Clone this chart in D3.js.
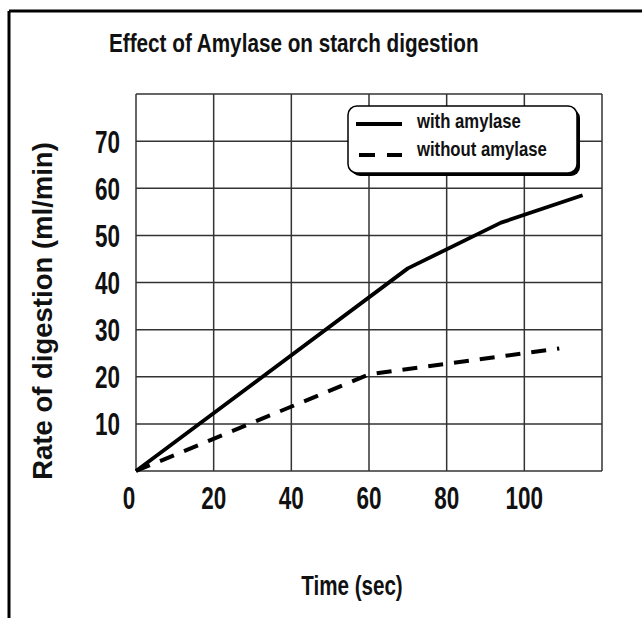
<!DOCTYPE html>
<html>
<head>
<meta charset="utf-8">
<script src="https://cdn.jsdelivr.net/npm/d3@7"></script>
<style>
  body { margin: 0; background: #fff; }
  text { font-family: "Liberation Sans", Arial, sans-serif; font-weight: bold; fill: #111; }
</style>
</head>
<body>
<svg id="chart"></svg>
<script>
// data
const xTicks = [0, 20, 40, 60, 80, 100];
const yTicks = [10, 20, 30, 40, 50, 60, 70];
const gridX = [0, 20, 40, 60, 80, 100, 120];
const gridY = [0, 10, 20, 30, 40, 50, 60, 70, 80];

const withTime = [0, 70, 94, 115];
const withRate = [0, 43, 52.7, 58.5];
const withoutTime = [0, 60, 109];
const withoutRate = [0, 20.5, 26];

const seriesNames = ["with amylase", "without amylase"];

const W = 642, H = 618;
const plotL = 136, plotR = 602, plotT = 94, plotB = 471;

const svg = d3.select("#chart").attr("width", W).attr("height", H);

// outer frame (only top and left edges are visible)
svg.append("line").attr("x1", 9).attr("y1", 11).attr("x2", W).attr("y2", 11)
  .attr("stroke", "#000").attr("stroke-width", 3);
svg.append("line").attr("x1", 9).attr("y1", 11).attr("x2", 9).attr("y2", H)
  .attr("stroke", "#000").attr("stroke-width", 3);

const x = d3.scaleLinear().domain([0, 120]).range([plotL, plotR]);
const y = d3.scaleLinear().domain([0, 80]).range([plotB, plotT]);

// stretched text helper
function label(x0, y0, str, size, sx, sy, anchor) {
  return svg.append("text")
    .attr("transform", `translate(${x0},${y0}) scale(${sx},${sy})`)
    .attr("font-size", size)
    .attr("text-anchor", anchor || "start")
    .text(str);
}

// grid
const grid = svg.append("g").attr("stroke", "#333").attr("stroke-width", 1.5);
grid.selectAll("line.v").data(gridX).enter().append("line")
  .attr("x1", d => x(d)).attr("x2", d => x(d))
  .attr("y1", y(0)).attr("y2", y(80));
grid.selectAll("line.h").data(gridY).enter().append("line")
  .attr("y1", d => y(d)).attr("y2", d => y(d))
  .attr("x1", x(0)).attr("x2", x(120));

// tick labels
xTicks.forEach(t => {
  label(x(t) + (t === 0 ? -7 : 0), 509, t, 22.5, 1, 1.4, "middle");
});
yTicks.forEach(t => {
  label(120, y(t) + 11.5, t, 22.5, 1, 1.4, "end");
});

// lines
const line = d3.line().x(d => x(d[0])).y(d => y(d[1]));

svg.append("path")
  .datum(withTime.map((t, i) => [t, withRate[i]]))
  .attr("d", line)
  .attr("fill", "none").attr("stroke", "#000").attr("stroke-width", 3.8)
  .attr("stroke-linejoin", "round");

svg.append("path")
  .datum(withoutTime.map((t, i) => [t, withoutRate[i]]))
  .attr("d", line)
  .attr("fill", "none").attr("stroke", "#000").attr("stroke-width", 4)
  .attr("stroke-dasharray", "15,11");

// legend
const lg = svg.append("g");
lg.append("rect").attr("x", 351).attr("y", 109).attr("width", 229).attr("height", 67)
  .attr("rx", 9).attr("fill", "#000");
lg.append("rect").attr("x", 348).attr("y", 106).attr("width", 229).attr("height", 67)
  .attr("rx", 9).attr("fill", "#fff").attr("stroke", "#000").attr("stroke-width", 1.5);
lg.append("line").attr("x1", 356).attr("x2", 402).attr("y1", 124).attr("y2", 124)
  .attr("stroke", "#000").attr("stroke-width", 4);
lg.append("line").attr("x1", 359).attr("x2", 402).attr("y1", 155).attr("y2", 155)
  .attr("stroke", "#000").attr("stroke-width", 4).attr("stroke-dasharray", "16,12");
label(417, 128, seriesNames[0], 16.7, 1, 1.25);
label(417, 156, seriesNames[1], 16.7, 1, 1.25);

// titles
label(109, 52, "Effect of Amylase on starch digestion", 20.7, 1, 1.27);
label(352, 595, "Time (sec)", 20.6, 1, 1.3, "middle");
svg.append("text")
  .attr("transform", "translate(52,311) rotate(-90)")
  .attr("font-size", 27.5)
  .attr("text-anchor", "middle")
  .text("Rate of digestion (ml/min)");
</script>
</body>
</html>
